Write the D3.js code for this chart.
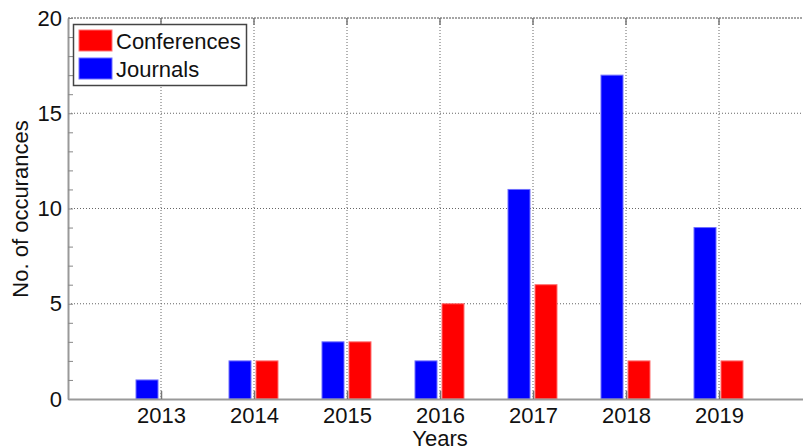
<!DOCTYPE html>
<html><head><meta charset="utf-8">
<script src="https://cdn.jsdelivr.net/npm/d3@7"></script>
<style>body{margin:0;background:#fff}svg{display:block}text{font-family:"Liberation Sans",Arial,sans-serif}</style>
</head><body>
<svg id="c" width="803" height="448"></svg>
<script>
const years = [2013, 2014, 2015, 2016, 2017, 2018, 2019];
const journals = [1, 2, 3, 2, 11, 17, 9];
const conferences = [0, 2, 3, 5, 6, 2, 2];
const yTicks = [0, 5, 10, 15, 20];
const seriesNames = ["Conferences", "Journals"];
const colors = {Conferences: "#ff0000", Journals: "#0000ff"};

const svg = d3.select("#c");
const L = 68, R = 812, T = 18, B = 399;
const x = d3.scaleLinear().domain([2012, 2020]).range([L, R]);
const y = d3.scaleLinear().domain([0, 20]).range([B, T]);
const bw = 22;

// grid
const g = svg.append("g");
g.selectAll(".vg").data(years).enter().append("line")
  .attr("x1", d => x(d)).attr("x2", d => x(d)).attr("y1", T).attr("y2", B)
  .attr("stroke", "#666").attr("stroke-width", 1).attr("stroke-dasharray", "1,2");
g.selectAll(".hg").data(yTicks.filter(d => d > 0 && d < 20)).enter().append("line")
  .attr("x1", L).attr("x2", R).attr("y1", d => y(d)).attr("y2", d => y(d))
  .attr("stroke", "#666").attr("stroke-width", 1).attr("stroke-dasharray", "1,2");

// bars
const data = years.map((yr, i) => ({yr, j: journals[i], c: conferences[i]}));
svg.selectAll(".bj").data(data).enter().append("rect")
  .attr("x", d => x(d.yr) - 3 - bw).attr("width", bw)
  .attr("y", d => y(d.j)).attr("height", d => y(0) - y(d.j))
  .attr("fill", colors.Journals).attr("stroke", "#6f6fff").attr("stroke-width", 1);
svg.selectAll(".bc").data(data.filter(d => d.c > 0)).enter().append("rect")
  .attr("x", d => x(d.yr) + 2).attr("width", bw)
  .attr("y", d => y(d.c)).attr("height", d => y(0) - y(d.c))
  .attr("fill", colors.Conferences).attr("stroke", "#ff7070").attr("stroke-width", 1);

// axes
const yAxis = d3.axisLeft(y).tickValues(d3.range(0, 21)).tickSizeInner(-5).tickSizeOuter(0)
  .tickFormat(d => yTicks.includes(d) ? d : "");
const ya = svg.append("g").attr("transform", `translate(${L},0)`).call(yAxis);
ya.select(".domain").attr("stroke", "#999").attr("stroke-width", 2);
ya.selectAll(".tick line").attr("stroke", "#888");
ya.selectAll(".tick text").attr("x", -6).attr("font-size", 22).attr("fill", "#111");

const xAxis = d3.axisBottom(x).tickValues(years).tickSizeInner(-8).tickSizeOuter(0).tickFormat(d3.format("d"));
const xa = svg.append("g").attr("transform", `translate(0,${B})`).call(xAxis);
xa.select(".domain").attr("stroke", "#999").attr("stroke-width", 2);
xa.selectAll(".tick line").attr("stroke", "#777").attr("stroke-width", 1.5);
xa.selectAll(".tick text").attr("y", 8).attr("font-size", 22).attr("fill", "#111");

// top border with ticks
svg.append("line").attr("x1", L).attr("x2", R).attr("y1", T).attr("y2", T)
  .attr("stroke", "#888").attr("stroke-width", 1.5).attr("stroke-dasharray", "2,1");
svg.selectAll(".tt").data(years).enter().append("line")
  .attr("x1", d => x(d)).attr("x2", d => x(d)).attr("y1", T).attr("y2", T + 7)
  .attr("stroke", "#777").attr("stroke-width", 1.5);

// labels
svg.append("text").attr("x", 440).attr("y", 446).attr("text-anchor", "middle")
  .attr("font-size", 22).attr("fill", "#111").text("Years");
svg.append("text").attr("transform", "translate(28,209) rotate(-90)").attr("text-anchor", "middle")
  .attr("font-size", 22).attr("fill", "#111").text("No. of occurances");

// legend
const lg = svg.append("g");
lg.append("rect").attr("x", 73.5).attr("y", 24.5).attr("width", 173).attr("height", 61)
  .attr("fill", "#fff").attr("stroke", "#444").attr("stroke-width", 1.5);
seriesNames.forEach((n, i) => {
  lg.append("rect").attr("x", 79).attr("y", 30 + i * 28).attr("width", 33).attr("height", 21)
    .attr("fill", colors[n]).attr("stroke", n === "Journals" ? "#6f6fff" : "#ff7070");
  lg.append("text").attr("x", 116).attr("y", 49 + i * 28).attr("font-size", 22).attr("fill", "#111").text(n);
});
</script>
</body></html>
